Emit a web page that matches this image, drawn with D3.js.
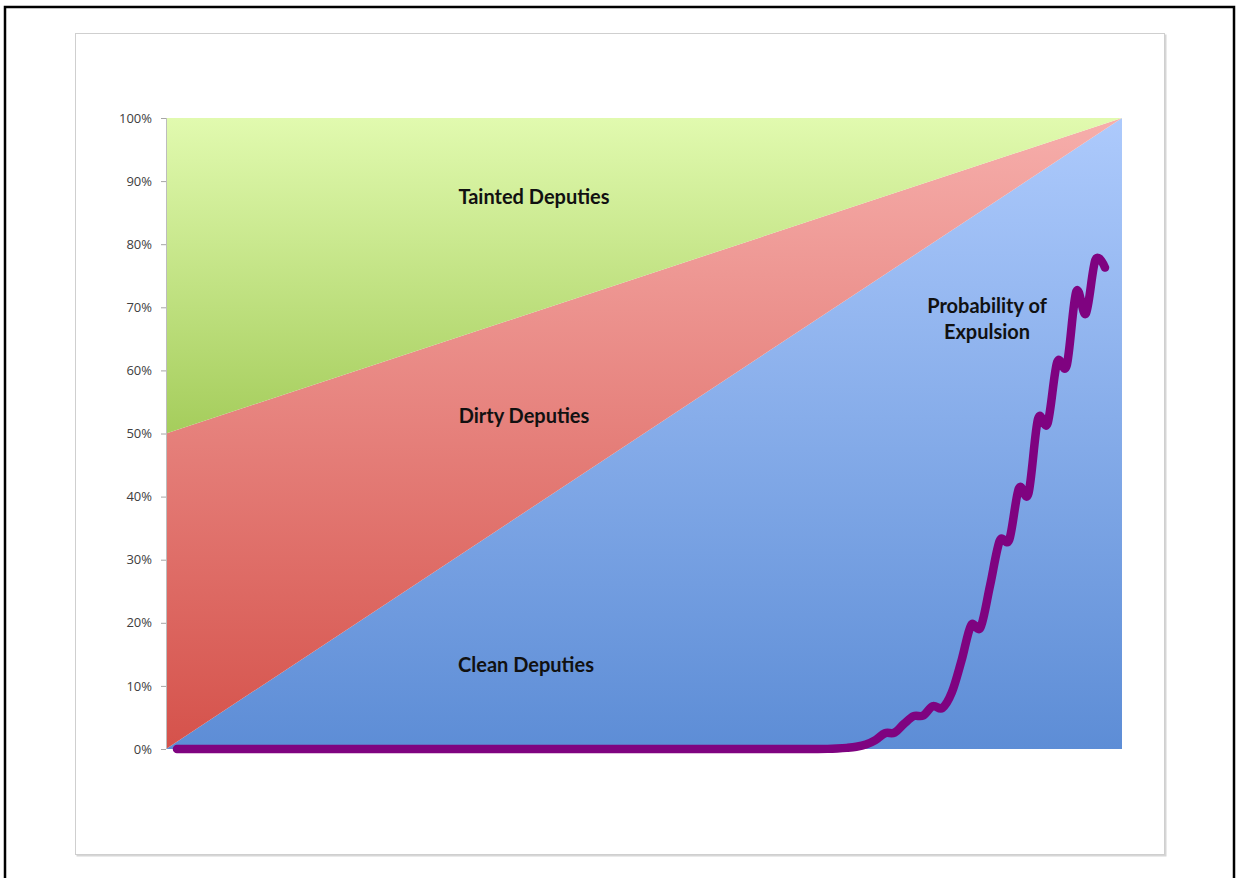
<!DOCTYPE html>
<html>
<head>
<meta charset="utf-8">
<script src="https://cdn.jsdelivr.net/npm/d3@7"></script>
<style>
  html, body { margin: 0; padding: 0; background: #fff; }
  svg { display: block; }
</style>
</head>
<body>
<svg id="chart" width="1236" height="878"></svg>
<script>
// Composition of deputies along the horizontal span (share of total, 0..1)
const spanEnds = [0, 1];
const cleanShare   = [0.00, 1.00];
const dirtyShare   = [0.50, 0.00];
const taintedShare = [0.50, 0.00];
const seriesNames  = ["Clean Deputies", "Dirty Deputies", "Tainted Deputies"];

// Probability of expulsion at each step (percent)
const expulsionPct = [
  0, 0, 0, 0, 0, 0, 0, 0, 0, 0,
  0, 0, 0, 0, 0, 0, 0, 0, 0, 0,
  0, 0, 0, 0, 0, 0, 0, 0, 0, 0,
  0, 0, 0, 0, 0, 0, 0, 0, 0, 0,
  0, 0, 0, 0, 0, 0, 0, 0, 0, 0,
  0, 0, 0, 0, 0, 0, 0, 0, 0, 0,
  0, 0, 0, 0, 0, 0, 0, 0, 0.02, 0.08,
  0.18, 0.35, 0.7, 1.4, 2.5, 2.6, 4.0, 5.2, 5.3, 6.8,
  6.5, 9.0, 14.0, 19.6, 19.3, 26.0, 33.0, 33.2, 41.3, 40.5,
  52.3, 51.6, 61.3, 60.8, 72.5, 69.0, 77.5, 76.3
];

const yTicks = [0, 0.1, 0.2, 0.3, 0.4, 0.5, 0.6, 0.7, 0.8, 0.9, 1.0];

const svg = d3.select("#chart");

// outer frame
svg.append("rect")
  .attr("x", 5).attr("y", 7).attr("width", 1229).attr("height", 900)
  .attr("fill", "none").attr("stroke", "#000").attr("stroke-width", 2.5);

// chart box with a soft shadow
svg.append("rect")
  .attr("x", 76.5).attr("y", 34.5).attr("width", 1090).attr("height", 822)
  .attr("fill", "#d6d6d6");
svg.append("rect")
  .attr("x", 75.5).attr("y", 33.5).attr("width", 1089).attr("height", 821)
  .attr("fill", "#fff").attr("stroke", "#cfcfcf").attr("stroke-width", 1);

const plotLeft = 166, plotRight = 1122, plotTop = 118, plotBottom = 749;

const x = d3.scaleLinear().domain([0, 1]).range([plotLeft, plotRight]);
const y = d3.scaleLinear().domain([0, 1]).range([plotBottom, plotTop]);

// vertical gradients for each band
const defs = svg.append("defs");
const grads = {
  "Clean Deputies":   ["#adcafc", "#5d8dd6"],
  "Dirty Deputies":   ["#f6aeab", "#d5524b"],
  "Tainted Deputies": ["#e1faaf", "#a5cd5c"]
};
Object.entries(grads).forEach(([name, [c0, c1]], i) => {
  const g = defs.append("linearGradient")
    .attr("id", "grad" + i)
    .attr("x1", 0).attr("y1", 0).attr("x2", 0).attr("y2", 1);
  g.append("stop").attr("offset", "0%").attr("stop-color", c0);
  g.append("stop").attr("offset", "100%").attr("stop-color", c1);
});

const rows = spanEnds.map((t, i) => ({
  t,
  "Clean Deputies": cleanShare[i],
  "Dirty Deputies": dirtyShare[i],
  "Tainted Deputies": taintedShare[i]
}));
const stacked = d3.stack().keys(seriesNames)(rows);

const area = d3.area()
  .x(d => x(d.data.t))
  .y0(d => y(d[0]))
  .y1(d => y(d[1]));

svg.append("g").selectAll("path")
  .data(stacked)
  .join("path")
  .attr("d", area)
  .attr("fill", (d, i) => `url(#grad${i})`);

// y axis
const yAxis = d3.axisLeft(y)
  .tickValues(yTicks)
  .tickFormat(d3.format(".0%"))
  .tickSize(5)
  .tickPadding(9);
const ga = svg.append("g")
  .attr("transform", `translate(${plotLeft},0)`)
  .call(yAxis);
ga.select(".domain").attr("stroke", "#bdbdbd").attr("d", `M0.5,${plotTop}V${plotBottom}`);
ga.selectAll(".tick line").attr("stroke", "#a6a6a6");
ga.selectAll(".tick text")
  .attr("fill", "#404040")
  .style("font-family", "'Open Sans', sans-serif")
  .style("font-size", "13px");

// probability of expulsion line
const xs = d3.scaleLinear().domain([0, expulsionPct.length - 1]).range([177, 1105]);
const yp = d3.scaleLinear().domain([0, 100]).range([plotBottom, plotTop]);
const line = d3.line()
  .x((d, i) => xs(i))
  .y(d => yp(d))
  .curve(d3.curveCatmullRom.alpha(0));
svg.append("path")
  .datum(expulsionPct)
  .attr("d", line)
  .attr("fill", "none")
  .attr("stroke", "#7f0380")
  .attr("stroke-width", 8.5)
  .attr("stroke-linecap", "round")
  .attr("stroke-linejoin", "round");

// band and line labels
const labelStyle = sel => sel
  .attr("text-anchor", "middle")
  .attr("fill", "#111")
  .style("font-family", "Lato, 'Open Sans', sans-serif")
  .style("font-weight", "bold")
  .style("font-size", "20px");

const labels = [
  { text: "Tainted Deputies", x: 534, y: 204 },
  { text: "Dirty Deputies", x: 524, y: 423 },
  { text: "Clean Deputies", x: 526, y: 672 },
  { text: "Probability of", x: 987, y: 313 },
  { text: "Expulsion", x: 987, y: 339 }
];
svg.append("g").selectAll("text")
  .data(labels)
  .join("text")
  .call(labelStyle)
  .attr("x", d => d.x)
  .attr("y", d => d.y)
  .text(d => d.text);
</script>
</body>
</html>
